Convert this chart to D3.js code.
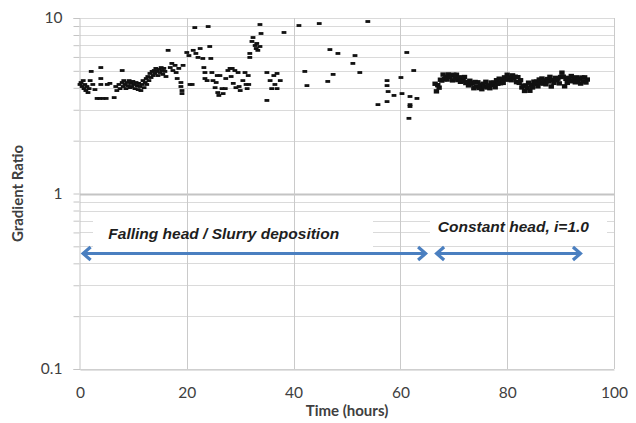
<!DOCTYPE html>
<html>
<head>
<meta charset="utf-8">
<script src="https://cdn.jsdelivr.net/npm/d3@7"></script>
<style>
  body { margin: 0; background: #fff; }
  .tick text { font-family: Lato, "Open Sans", sans-serif; font-size: 15.5px; fill: #404040; }
  .axis-title { font-family: Lato, "Open Sans", sans-serif; font-size: 15px; font-weight: bold; fill: #404040; }
  .note { font-family: "Liberation Sans", Arial, sans-serif; font-size: 15.5px; font-weight: bold; font-style: italic; fill: #1e1e1e; }
</style>
</head>
<body>
<svg id="chart"></svg>
<script>
// falling head / slurry deposition phase (hours, gradient ratio)
const fallingTime = [
  0.0, 0.2, 0.4, 0.6, 0.75, 0.9, 1.1, 1.3, 1.5, 1.7, 1.9, 2.1, 2.4, 2.8, 3.2, 3.7, 3.9, 3.9, 3.9, 4.3,
  4.9, 5.1, 5.6, 6.4, 6.7, 6.9, 7.3, 7.5, 7.9, 7.9, 8.1, 8.2, 8.4, 8.6, 8.8, 9.0, 9.2, 9.4, 9.6, 9.7,
  9.9, 10.1, 10.3, 10.5, 10.7, 10.9, 11.0, 11.2, 11.4, 11.6, 11.8, 12.0, 12.2, 12.4, 12.5, 12.7, 12.9, 13.1, 13.3, 13.5,
  13.7, 13.9, 14.0, 14.2, 14.4, 14.6, 14.8, 15.0, 15.2, 15.4, 15.5, 15.7, 15.9, 16.1, 16.5, 16.9, 17.2, 17.4, 17.8, 18.0,
  18.2, 18.5, 18.9, 18.9, 19.1, 19.1, 19.3, 20.0, 20.4, 20.6, 21.0, 21.2, 21.5, 21.7, 22.1, 22.5, 23.0, 23.2, 23.4, 23.4,
  23.8, 24.0, 24.3, 24.5, 24.7, 24.9, 25.3, 25.5, 25.7, 25.8, 26.0, 26.2, 26.6, 26.8, 27.2, 27.3, 27.7, 28.1, 28.3, 28.5,
  28.7, 29.0, 29.2, 29.6, 29.8, 30.0, 30.5, 30.9, 31.1, 31.3, 31.5, 31.6, 31.8, 31.8, 32.2, 32.4, 32.8, 33.0, 33.1, 33.3,
  33.7, 33.9, 33.7, 35.0, 35.0, 35.6, 35.9, 36.3, 36.5, 36.9, 37.5, 36.9, 38.2, 41.0, 42.1, 42.5, 44.8, 46.4, 46.8, 47.4,
  48.3, 51.1, 51.5, 52.4, 53.9, 55.8, 57.5, 57.5, 57.7, 58.8, 57.5, 60.1, 60.3, 61.2, 62.5, 61.8, 63.1, 61.8, 61.8, 61.6
];
const fallingRatio = [
  4.18, 4.29, 4.07, 4.40, 3.96, 4.18, 3.86, 4.07, 3.76, 3.96, 4.40, 4.96, 4.18, 3.91, 3.48, 3.48, 5.22, 4.52, 4.18, 3.48,
  3.48, 4.18, 4.24, 3.52, 4.07, 3.86, 4.18, 3.96, 5.02, 4.29, 4.07, 4.40, 4.18, 3.96, 4.29, 4.12, 4.40, 4.01, 4.24, 4.07,
  4.35, 4.18, 3.96, 4.29, 4.12, 3.91, 4.24, 4.07, 3.86, 4.18, 4.40, 4.01, 4.29, 4.52, 4.18, 4.64, 4.40, 4.83, 4.58, 4.96,
  4.70, 5.02, 4.83, 5.16, 4.96, 4.70, 5.09, 4.89, 5.22, 5.02, 4.77, 5.16, 4.96, 4.64, 6.54, 5.22, 5.51, 5.02, 5.37, 4.89,
  4.52, 5.16, 4.29, 4.07, 3.86, 3.71, 5.37, 6.36, 6.11, 4.18, 4.18, 6.54, 8.82, 6.28, 5.96, 6.70, 5.88, 5.22, 4.89, 4.52,
  4.40, 8.94, 6.88, 5.88, 4.89, 4.40, 4.01, 4.29, 4.70, 3.76, 3.62, 4.70, 3.96, 3.71, 3.96, 4.52, 5.02, 5.16, 4.64, 5.16,
  4.24, 5.02, 4.01, 4.89, 4.07, 3.86, 4.40, 4.89, 4.18, 3.96, 4.70, 4.18, 6.28, 5.96, 7.35, 7.74, 6.97, 6.70, 7.16, 6.54,
  9.18, 8.16, 6.88, 4.89, 3.39, 4.40, 3.96, 4.70, 4.18, 4.83, 4.40, 3.96, 8.27, 9.06, 4.96, 4.12, 9.30, 4.35, 6.61, 4.77,
  6.28, 5.51, 6.11, 4.89, 9.55, 3.21, 4.40, 4.12, 3.81, 3.62, 3.34, 4.58, 3.71, 6.36, 5.02, 3.57, 3.48, 3.21, 3.13, 2.68
];

// constant head phase, i = 1.0
const constantTime = [
  66.50, 66.75, 67.00, 67.25, 67.50, 67.75, 68.00, 68.25, 68.50, 68.75, 69.00, 69.25, 69.50, 69.75, 70.00, 70.25,
  70.50, 70.75, 71.00, 71.25, 71.50, 71.75, 72.00, 72.25, 72.50, 72.75, 73.00, 73.25, 73.50, 73.75, 74.00, 74.25,
  74.50, 74.75, 75.00, 75.25, 75.50, 75.75, 76.00, 76.25, 76.50, 76.75, 77.00, 77.25, 77.50, 77.75, 78.00, 78.25,
  78.50, 78.75, 79.00, 79.25, 79.50, 79.75, 80.00, 80.25, 80.50, 80.75, 81.00, 81.25, 81.50, 81.75, 82.00, 82.25,
  82.50, 82.75, 83.00, 83.25, 83.50, 83.75, 84.00, 84.25, 84.50, 84.75, 85.00, 85.25, 85.50, 85.75, 86.00, 86.25,
  86.50, 86.75, 87.00, 87.25, 87.50, 87.75, 88.00, 88.25, 88.50, 88.75, 89.00, 89.25, 89.50, 89.75, 90.00, 90.25,
  90.50, 90.75, 91.00, 91.25, 91.50, 91.75, 92.00, 92.25, 92.50, 92.75, 93.00, 93.25, 93.50, 93.75, 94.00, 94.25,
  94.50, 94.75, 95.00
];
const constantRatio = [
  4.22, 3.82, 4.14, 4.01, 4.45, 4.40, 4.76, 4.48, 4.62, 4.46, 4.77, 4.62, 4.71, 4.41, 4.75, 4.52,
  4.75, 4.43, 4.58, 4.33, 4.58, 4.39, 4.61, 4.26, 4.32, 4.13, 4.39, 4.22, 4.28, 3.98, 4.32, 4.07,
  4.30, 3.99, 4.16, 3.93, 4.22, 4.07, 4.33, 4.02, 4.13, 3.98, 4.29, 4.16, 4.28, 4.03, 4.42, 4.22,
  4.51, 4.25, 4.46, 4.27, 4.59, 4.47, 4.75, 4.46, 4.58, 4.42, 4.71, 4.56, 4.63, 4.31, 4.60, 4.27,
  4.42, 4.02, 4.12, 3.84, 4.12, 3.99, 4.28, 3.85, 4.14, 4.02, 4.34, 4.22, 4.34, 4.08, 4.46, 4.25,
  4.52, 4.23, 4.41, 4.19, 4.49, 4.35, 4.62, 4.07, 4.42, 4.27, 4.56, 4.42, 4.51, 4.24, 4.61, 4.88,
  4.63, 4.08, 4.50, 4.27, 4.56, 4.41, 4.67, 4.36, 4.46, 4.30, 4.59, 4.43, 4.51, 4.23, 4.58, 4.35,
  4.59, 4.29, 4.46
];

const xTicks = [0, 20, 40, 60, 80, 100];
const yLabelTicks = [0.1, 1, 10];

// annotation arrows: [from hour, to hour, ratio]
const arrows = [[0.3, 65.0, 0.455], [66.5, 94.0, 0.455]];
const notes = [
  {text: "Falling head / Slurry deposition", t: 5.3, v: 0.548},
  {text: "Constant head, i=1.0", t: 67.0, v: 0.60}
];

const width = 636, height = 423;
const margin = {top: 18, right: 22, bottom: 54, left: 80};

const xScale = d3.scaleLinear().domain([0, 100]).range([margin.left, width - margin.right]);
const yScale = d3.scaleLog().domain([0.1, 10]).range([height - margin.bottom, margin.top]);

const svg = d3.select("#chart").attr("width", width).attr("height", height);
svg.append("rect").attr("width", width).attr("height", height).attr("fill", "#fff");

// horizontal grid (log minor + major)
svg.append("g")
  .selectAll("line")
  .data(yScale.ticks())
  .enter().append("line")
  .attr("x1", xScale(0)).attr("x2", xScale(100))
  .attr("y1", d => Math.round(yScale(d)) + 0.5).attr("y2", d => Math.round(yScale(d)) + 0.5)
  .attr("stroke", d => (d === 1 ? "#c4c4c4" : "#dadada"))
  .attr("stroke-width", d => (d === 1 ? 2 : 1));

// white boxes behind the annotation text
svg.append("rect").attr("x", 93).attr("y", 213).attr("width", 280).attr("height", 37).attr("fill", "#fff");
svg.append("rect").attr("x", 430).attr("y", 213).attr("width", 177).attr("height", 27).attr("fill", "#fff");

// vertical grid
svg.append("g")
  .selectAll("line")
  .data(xTicks.slice(1))
  .enter().append("line")
  .attr("x1", d => Math.round(xScale(d)) + 0.5).attr("x2", d => Math.round(xScale(d)) + 0.5)
  .attr("y1", yScale(10)).attr("y2", yScale(0.1))
  .attr("stroke", "#cacaca");

const fmt = d => (d >= 1 ? d3.format("d")(d) : String(d));

svg.append("g")
  .attr("class", "y axis")
  .attr("transform", "translate(" + (xScale(0) - 0.5) + ",0)")
  .call(d3.axisLeft(yScale)
    .tickValues(yScale.ticks())
    .tickSize(6)
    .tickPadding(11)
    .tickFormat(d => (yLabelTicks.includes(d) ? fmt(d) : "")))
  .call(g => g.selectAll("line, path").attr("stroke", "#c4c4c4"));

svg.append("g")
  .attr("class", "x axis")
  .attr("transform", "translate(0," + (yScale(0.1) + 0.5) + ")")
  .call(d3.axisBottom(xScale).tickValues(xTicks).tickSize(0).tickPadding(17).tickFormat(d3.format("d")))
  .call(g => g.selectAll("path").attr("stroke", "#c4c4c4"));

svg.selectAll(".y.axis path, .x.axis path").attr("fill", "none");

// data markers
const markers = svg.append("g");
const drawDots = (times, ratios, w, h) => {
  markers.selectAll(null)
    .data(times.map((t, i) => ({t: t, v: ratios[i]})))
    .enter().append("rect")
    .attr("x", d => xScale(d.t) - w / 2)
    .attr("y", d => yScale(d.v) - h / 2)
    .attr("width", w)
    .attr("height", h)
    .attr("fill", "#111");
};
drawDots(fallingTime, fallingRatio, 4.8, 2.8);
drawDots(constantTime, constantRatio, 5.4, 4.4);

// blue double-headed arrows
const arrowColor = "#4a7fc0";
arrows.forEach(([t0, t1, v]) => {
  const x0 = xScale(t0), x1 = xScale(t1), y = yScale(v);
  svg.append("line")
    .attr("x1", x0 + 1).attr("x2", x1 - 1).attr("y1", y).attr("y2", y)
    .attr("stroke", arrowColor).attr("stroke-width", 3);
  svg.append("polyline")
    .attr("points", [[x0 + 9, y - 6.5], [x0 + 1.5, y], [x0 + 9, y + 6.5]].join(" "))
    .attr("fill", "none").attr("stroke", arrowColor).attr("stroke-width", 3.2);
  svg.append("polyline")
    .attr("points", [[x1 - 9, y - 6.5], [x1 - 1.5, y], [x1 - 9, y + 6.5]].join(" "))
    .attr("fill", "none").attr("stroke", arrowColor).attr("stroke-width", 3.2);
});

svg.selectAll(".note")
  .data(notes)
  .enter().append("text")
  .attr("class", "note")
  .attr("x", d => xScale(d.t))
  .attr("y", d => yScale(d.v))
  .text(d => d.text);

svg.append("text")
  .attr("class", "axis-title")
  .attr("x", (xScale(0) + xScale(100)) / 2)
  .attr("y", 416)
  .attr("text-anchor", "middle")
  .text("Time (hours)");

svg.append("text")
  .attr("class", "axis-title")
  .attr("transform", "translate(23," + yScale(1) + ") rotate(-90)")
  .attr("text-anchor", "middle")
  .text("Gradient Ratio");
</script>
</body>
</html>
